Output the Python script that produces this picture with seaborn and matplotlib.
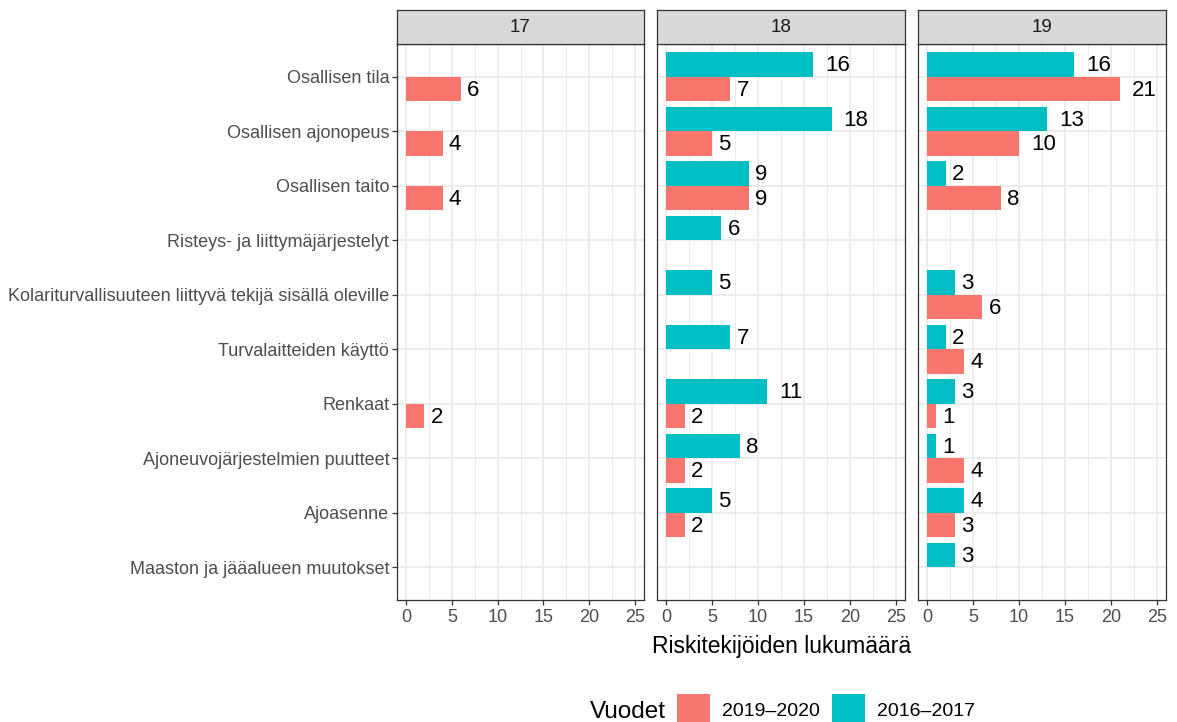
import numpy as np
import pandas as pd
import matplotlib
matplotlib.use("Agg")
import matplotlib.pyplot as plt
from matplotlib.patches import Rectangle
from matplotlib.ticker import MultipleLocator
import seaborn as sns

categories = [
    "Osallisen tila",
    "Osallisen ajonopeus",
    "Osallisen taito",
    "Risteys- ja liittymäjärjestelyt",
    "Kolariturvallisuuteen liittyvä tekijä sisällä oleville",
    "Turvalaitteiden käyttö",
    "Renkaat",
    "Ajoneuvojärjestelmien puutteet",
    "Ajoasenne",
    "Maaston ja jääalueen muutokset",
]
panels = ["17", "18", "19"]
years = ["2019–2020", "2016–2017"]

# values per panel (None = no bar), in category order
p17_2019 = [6, 4, 4, None, None, None, 2, None, None, None]
p17_2016 = [None] * 10
p18_2019 = [7, 5, 9, None, None, None, 2, 2, 2, None]
p18_2016 = [16, 18, 9, 6, 5, 7, 11, 8, 5, None]
p19_2019 = [21, 10, 8, None, 6, 4, 1, 4, 3, None]
p19_2016 = [16, 13, 2, None, 3, 2, 3, 1, 4, 3]

colors = {"2019–2020": "#F8766D", "2016–2017": "#00BFC4"}

series = {
    "17": {"2019–2020": p17_2019, "2016–2017": p17_2016},
    "18": {"2019–2020": p18_2019, "2016–2017": p18_2016},
    "19": {"2019–2020": p19_2019, "2016–2017": p19_2016},
}

rows = []
for p in panels:
    for y in years:
        for c, v in zip(categories, series[p][y]):
            if v is not None:
                rows.append({"panel": p, "Vuodet": y, "category": c, "n": v})
df = pd.DataFrame(rows)

sns.set_theme(style="white")
plt.rcParams["font.family"] = ["Liberation Sans", "DejaVu Sans"]

W, H = 1177, 722
fig = plt.figure(figsize=(W / 100, H / 100), dpi=100)

lefts = [397, 657, 918]
rights = [644, 905, 1166]
top_px, bot_px = 44, 600
strip_top = 10

grid_c = "#EBEBEB"
dark = "#333333"

for i, p in enumerate(panels):
    l, r = lefts[i], rights[i]
    ax = fig.add_axes([l / W, 1 - bot_px / H, (r - l) / W, (bot_px - top_px) / H])
    sub = df[df["panel"] == p]
    sns.barplot(data=sub, y="category", x="n", hue="Vuodet",
                order=categories, hue_order=["2016–2017", "2019–2020"],
                palette=colors, orient="h", width=0.9, dodge=True,
                errorbar=None, legend=False, saturation=1, ax=ax,
                edgecolor="none", linewidth=0, zorder=3)
    ax.set_xlim(-1.0, 26.0)
    ax.set_ylim(9.6, -0.6)
    ax.xaxis.set_major_locator(MultipleLocator(5))
    ax.xaxis.set_minor_locator(MultipleLocator(2.5))
    ax.grid(True, which="major", color=grid_c, lw=1.3, zorder=0)
    ax.grid(True, which="minor", axis="x", color=grid_c, lw=0.7, zorder=0)
    ax.set_axisbelow(True)
    for s in ax.spines.values():
        s.set_color(dark)
        s.set_linewidth(0.9)
    ax.set_xlabel("")
    ax.set_ylabel("")
    ax.tick_params(axis="x", which="major", length=3.5, width=0.9, color=dark,
                   labelsize=13, labelcolor="#4D4D4D", pad=3, bottom=True)
    ax.tick_params(axis="x", which="minor", length=0)
    if i == 0:
        ax.tick_params(axis="y", length=3.5, width=0.9, color=dark,
                       labelsize=13, labelcolor="#4D4D4D", pad=2, left=True)
    else:
        ax.tick_params(axis="y", length=0, labelleft=False)
    # value labels
    for cont in ax.containers:
        for bar in cont:
            w = bar.get_width()
            if not np.isfinite(w) or w <= 0:
                continue
            txt = f"{int(round(w))}"
            yc = bar.get_y() + bar.get_height() / 2
            ax.annotate(txt, (w, yc), xytext=(4.4 * len(txt), -1),
                        textcoords="offset points", ha="left", va="center",
                        fontsize=16, color="black", zorder=4)
    # strip
    sax = fig.add_axes([l / W, 1 - top_px / H, (r - l) / W, (top_px - strip_top) / H])
    sax.set_xticks([])
    sax.set_yticks([])
    sax.set_facecolor("#D9D9D9")
    for s in sax.spines.values():
        s.set_color(dark)
        s.set_linewidth(0.9)
    sax.text(0.5, 0.5, p, ha="center", va="center", fontsize=13.5,
             color="#1A1A1A", transform=sax.transAxes)

fig.text((lefts[0] + rights[-1]) / 2 / W, 1 - 646 / H, "Riskitekijöiden lukumäärä",
         ha="center", va="center", fontsize=16.5, color="black")

# legend
ly = 1 - 712 / H
fig.text(590 / W, ly, "Vuodet", ha="left", va="center", fontsize=17.5, color="black")
leg_items = [("2019–2020", 677, 722), ("2016–2017", 832, 877)]
for lab, kx, tx in leg_items:
    fig.patches.append(Rectangle((kx / W, 1 - 724 / H), 33 / W, 30 / H,
                                 transform=fig.transFigure, facecolor=colors[lab],
                                 edgecolor="none"))
    fig.text(tx / W, ly, lab, ha="left", va="center", fontsize=14, color="black")

fig.savefig("out.png", dpi=100, facecolor="white")
